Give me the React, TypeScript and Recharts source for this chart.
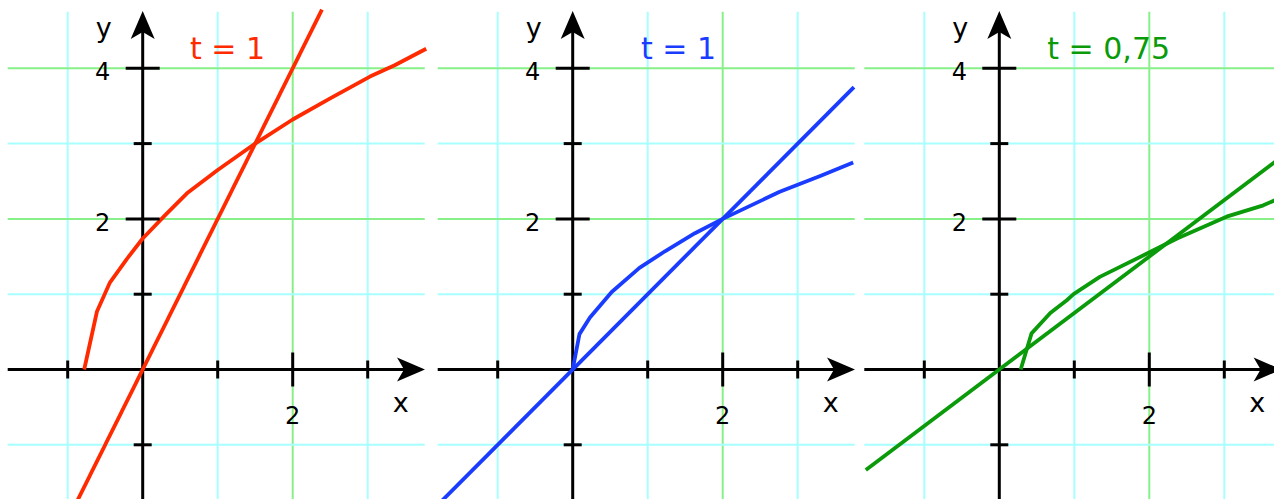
import React from "react";
import { LineChart, Line, XAxis, YAxis, ReferenceLine, ReferenceDot } from "recharts";

// ---- data ----
const redLine = [
  { x: -0.875, y: -1.75 },
  { x: 2.39, y: 4.78 },
];
const redCurve = [
  { x: -0.78, y: 0 },
  { x: -0.61, y: 0.77 },
  { x: -0.44, y: 1.15 },
  { x: -0.21, y: 1.47 },
  { x: 0, y: 1.74 },
  { x: 0.3, y: 2.05 },
  { x: 0.59, y: 2.34 },
  { x: 1.0, y: 2.65 },
  { x: 1.5, y: 3.0 },
  { x: 2.0, y: 3.32 },
  { x: 2.5, y: 3.6 },
  { x: 3.03, y: 3.89 },
  { x: 3.36, y: 4.04 },
  { x: 3.78, y: 4.26 },
];
const blueLine = [
  { x: -1.77, y: -1.77 },
  { x: 3.75, y: 3.75 },
];
const blueCurve = [
  { x: 0, y: 0 },
  { x: 0.09, y: 0.47 },
  { x: 0.23, y: 0.69 },
  { x: 0.52, y: 1.03 },
  { x: 0.89, y: 1.35 },
  { x: 1.23, y: 1.57 },
  { x: 1.63, y: 1.81 },
  { x: 2.0, y: 2.0 },
  { x: 2.76, y: 2.36 },
  { x: 3.3, y: 2.57 },
  { x: 3.74, y: 2.75 },
];
const greenLine = [
  { x: -1.78, y: -1.335 },
  { x: 3.7, y: 2.775 },
];
const greenCurve = [
  { x: 0.285, y: 0 },
  { x: 0.43, y: 0.48 },
  { x: 0.68, y: 0.75 },
  { x: 0.9, y: 0.92 },
  { x: 0.99, y: 1.0 },
  { x: 1.34, y: 1.23 },
  { x: 1.97, y: 1.54 },
  { x: 2.37, y: 1.74 },
  { x: 3.03, y: 2.03 },
  { x: 3.52, y: 2.18 },
  { x: 3.7, y: 2.26 },
];

const gridXValues = [-1, 1, 2, 3];
const gridYValues = [-1, 1, 2, 3, 4];
const xTickValues = [-1, 1, 2, 3];
const yTickValues = [-1, 1, 2, 3, 4];
const xTickLabels = [2];
const yTickLabels = [2, 4];
const titles = ["t = 1", "t = 1", "t = 0,75"];

// ---- layout ----
const CHART_H = 499;
const UNIT_X = 75;
const UNIT_Y = 75.3;
const ORIGIN_Y = 369.5;
const Y_MIN = -(CHART_H - ORIGIN_Y) / UNIT_Y;
const Y_MAX = ORIGIN_Y / UNIT_Y;
const GRID_X0 = -1.8;
const GRID_X1 = 3.76;
const GRID_Y0 = Y_MIN;
const GRID_Y1 = 4.75;
const AXIS_TIP_X = 3.764;
const AXIS_TIP_Y = 4.76;

const COL_CYAN = "#a8ffff";
const COL_GREEN = "#88f088";
const FONT = "'DejaVu Sans', Verdana, sans-serif";

// left/width: panel box on the page; ox: page x of that panel's y-axis
const panels = [
  { left: 0, width: 431, ox: 142.7, color: "#ff2a00", line: redLine, curve: redCurve, title: titles[0], titleX: 0.63 },
  { left: 431, width: 431, ox: 572.7, color: "#1a3cff", line: blueLine, curve: blueCurve, title: titles[1], titleX: 0.91 },
  { left: 862, width: 412, ox: 999.3, color: "#0a9a0a", line: greenLine, curve: greenCurve, title: titles[2], titleX: 0.64 },
];

const xArrow = (p: any) => (
  <polygon
    points={`${p.cx},${p.cy} ${p.cx - 28},${p.cy - 12} ${p.cx - 21},${p.cy} ${p.cx - 28},${p.cy + 12}`}
    fill="#000"
  />
);
const yArrow = (p: any) => (
  <polygon
    points={`${p.cx},${p.cy} ${p.cx - 12},${p.cy + 28} ${p.cx},${p.cy + 21} ${p.cx + 12},${p.cy + 28}`}
    fill="#000"
  />
);
const vTick = (len: number) => (p: any) => (
  <line x1={p.cx} x2={p.cx} y1={p.cy - len} y2={p.cy + len} stroke="#000" strokeWidth={3} />
);
const hTick = (len: number) => (p: any) => (
  <line x1={p.cx - len} x2={p.cx + len} y1={p.cy} y2={p.cy} stroke="#000" strokeWidth={3} />
);
const textAt = (txt: string, dx: number, dy: number, size: number, fill = "#000", anchor = "middle") => (p: any) => (
  <text x={p.cx + dx} y={p.cy + dy} fontSize={size} fontFamily={FONT} fill={fill} textAnchor={anchor}>
    {txt}
  </text>
);

function Panel({ cfg }: { cfg: (typeof panels)[number] }) {
  const xMin = (cfg.left - cfg.ox) / UNIT_X;
  const xMax = (cfg.left + cfg.width - cfg.ox) / UNIT_X;
  return (
    <div style={{ position: "absolute", left: cfg.left, top: 0, width: cfg.width, height: CHART_H }}>
      <LineChart width={cfg.width} height={CHART_H} margin={{ top: 0, right: 0, bottom: 0, left: 0 }}>
        <XAxis type="number" dataKey="x" domain={[xMin, xMax]} allowDataOverflow hide />
        <YAxis type="number" dataKey="y" domain={[Y_MIN, Y_MAX]} allowDataOverflow hide />
        {gridXValues.map((v) => (
          <ReferenceLine
            key={"gx" + v}
            segment={[{ x: v, y: GRID_Y0 }, { x: v, y: GRID_Y1 }]}
            stroke={v % 2 === 0 ? COL_GREEN : COL_CYAN}
            strokeWidth={2}
            ifOverflow="visible"
          />
        ))}
        {gridYValues.map((v) => (
          <ReferenceLine
            key={"gy" + v}
            segment={[{ x: GRID_X0, y: v }, { x: GRID_X1, y: v }]}
            stroke={v % 2 === 0 ? COL_GREEN : COL_CYAN}
            strokeWidth={2}
            ifOverflow="visible"
          />
        ))}
        <ReferenceLine
          segment={[{ x: GRID_X0, y: 0 }, { x: AXIS_TIP_X - 0.2, y: 0 }]}
          stroke="#000"
          strokeWidth={3}
          ifOverflow="visible"
        />
        <ReferenceLine
          segment={[{ x: 0, y: GRID_Y0 }, { x: 0, y: AXIS_TIP_Y - 0.2 }]}
          stroke="#000"
          strokeWidth={3}
          ifOverflow="visible"
        />
        <ReferenceDot x={AXIS_TIP_X} y={0} shape={xArrow} ifOverflow="visible" />
        <ReferenceDot x={0} y={AXIS_TIP_Y} shape={yArrow} ifOverflow="visible" />
        {xTickValues.map((v) => (
          <ReferenceDot key={"tx" + v} x={v} y={0} shape={vTick(v % 2 === 0 ? 17 : 9)} ifOverflow="visible" />
        ))}
        {yTickValues.map((v) => (
          <ReferenceDot key={"ty" + v} x={0} y={v} shape={hTick(v % 2 === 0 ? 17 : 9)} ifOverflow="visible" />
        ))}
        {xTickLabels.map((v) => (
          <ReferenceDot key={"lx" + v} x={v} y={0} shape={textAt(String(v), 0, 54, 24)} ifOverflow="visible" />
        ))}
        {yTickLabels.map((v) => (
          <ReferenceDot key={"ly" + v} x={0} y={v} shape={textAt(String(v), -40, 12, 24)} ifOverflow="visible" />
        ))}
        <ReferenceDot x={0} y={0} shape={textAt("y", -39, -333, 27)} ifOverflow="visible" />
        <ReferenceDot x={0} y={0} shape={textAt("x", 258, 42, 27)} ifOverflow="visible" />
        <ReferenceDot
          x={cfg.titleX}
          y={4.12}
          shape={textAt(cfg.title, 0, 0, 30, cfg.color, "start")}
          ifOverflow="visible"
        />
        <Line
          data={cfg.line}
          dataKey="y"
          stroke={cfg.color}
          strokeWidth={3.8}
          dot={false}
          activeDot={false}
          isAnimationActive={false}
        />
        <Line
          data={cfg.curve}
          dataKey="y"
          stroke={cfg.color}
          strokeWidth={3.8}
          strokeLinejoin="round"
          dot={false}
          activeDot={false}
          isAnimationActive={false}
        />
      </LineChart>
    </div>
  );
}

export default function App() {
  return (
    <div
      style={{
        position: "absolute",
        left: 0,
        top: 0,
        width: 1274,
        height: CHART_H,
        overflow: "hidden",
        background: "#fff",
      }}
    >
      {panels.map((p, i) => (
        <Panel key={i} cfg={p} />
      ))}
    </div>
  );
}
